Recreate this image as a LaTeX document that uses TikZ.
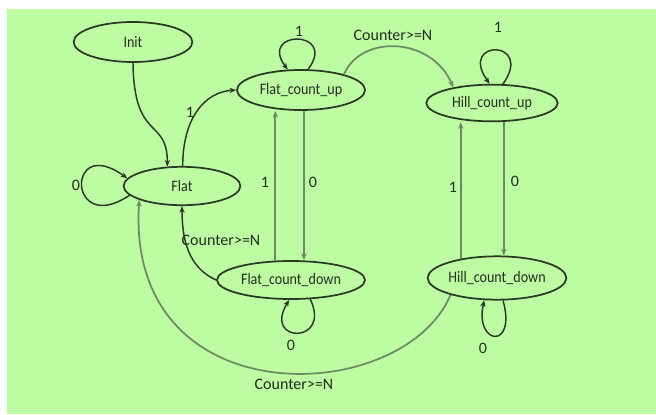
\documentclass[tikz,border=0pt]{standalone}
\usepackage{fontspec}
\setmainfont{Carlito}
\newfontfamily\statefont[FakeStretch=0.88]{Carlito}
\usetikzlibrary{arrows.meta,shapes.geometric}
\definecolor{bggreen}{RGB}{190,252,164}
\definecolor{darkln}{RGB}{40,58,34}
\definecolor{grayln}{RGB}{108,138,98}
\definecolor{txt}{RGB}{34,46,28}
\begin{document}
\begin{tikzpicture}[x=0.75pt,y=-0.75pt,
  state/.style={draw=darkln,line width=1.3pt,ellipse,inner sep=0pt,text=txt,
    font=\statefont\fontsize{12}{14}\selectfont},
  lbl/.style={text=txt,font=\fontsize{12}{14}\selectfont,inner sep=0pt},
  darkarrow/.style={draw=darkln,line width=1.1pt,-{Stealth[length=5pt,width=4pt]}},
  grayarrow/.style={draw=grayln,line width=1.3pt,-{Stealth[length=5pt,width=4pt]}}]
\useasboundingbox (0,0) rectangle (656,414);
\fill[white] (0,0) rectangle (656,414);
\fill[bggreen] (7,9) rectangle (656,414);

\node[state,minimum width=89pt,minimum height=30pt] (Init) at (133,42) {Init};
\node[state,minimum width=87.5pt,minimum height=28.8pt] (Flat) at (182,186) {Flat};
\node[state,minimum width=96pt,minimum height=30pt] (FCU) at (301,90) {Flat\_count\_up};
\node[state,minimum width=98.5pt,minimum height=27.5pt] (HCU) at (492,103) {Hill\_count\_up};
\node[state,minimum width=111pt,minimum height=28.5pt] (FCD) at (291,280) {Flat\_count\_down};
\node[state,minimum width=104pt,minimum height=32.5pt] (HCD) at (497,278) {Hill\_count\_down};

% Init -> Flat
\draw[darkarrow] (Init.south) .. controls +(1,80) and +(0,-50) .. (Flat.127);
% Flat -> FCU
\draw[darkarrow] (Flat.88) .. controls +(0,-47) and +(-32,2) .. (FCU.west);
\node[lbl] (l1) at (190,112) {1};
% Flat self loop
\draw[darkarrow] (Flat.190) .. controls +(-62,42) and +(-62,-45) .. (Flat.172);
\node[lbl] (l2) at (76,185) {0};
% FCU self loop
\draw[darkarrow] (FCU.71) .. controls +(30,-40) and +(-30,-40) .. (FCU.123);
\node[lbl] (l3) at (299,31) {1};
% FCU -> HCU
\draw[grayarrow] (FCU.20) .. controls +(17,-40) and +(-22,-51) .. (HCU.158);
\node[lbl] (l4) at (393,35) {Counter>=N};
% FCD -> FCU
\draw[grayarrow] (FCD.129) -- (FCD.129 |- FCU.south);
\node[lbl] (l5) at (265,182) {1};
% FCU -> FCD
\draw[grayarrow] (FCU.-82) -- (FCU.-82 |- FCD.north);
\node[lbl] (l6) at (313,182) {0};
% HCU self loop
\draw[darkarrow] (HCU.60) .. controls +(32,-45) and +(-32,-45) .. (HCU.97);
\node[lbl] (l7) at (498,27) {1};
% HCD -> HCU
\draw[grayarrow] (HCD.152) -- (HCD.152 |- HCU.south);
\node[lbl] (l8) at (453,187) {1};
% HCU -> HCD
\draw[grayarrow] (HCU.-58) -- (HCU.-58 |- HCD.north);
\node[lbl] (l9) at (515,181) {0};
% FCD -> Flat
\draw[darkarrow] (FCD.west) .. controls +(-27,-12) and +(0,35) .. (Flat.south);
\node[lbl] (l10) at (221,240) {Counter>=N};
% FCD self loop
\draw[darkarrow] (FCD.-45) .. controls +(22,45) and +(-27,44) .. (FCD.-95);
\node[lbl] (l11) at (291,345) {0};
% HCD self loop
\draw[darkarrow] (HCD.-75) .. controls +(14,50) and +(-10,45) .. (HCD.-120);
\node[lbl] (l12) at (483,348) {0};
% HCD -> Flat
\draw[grayarrow] (HCD.200) .. controls +(-48,113) and +(-14,218) .. (Flat.198);
\node[lbl] (l13) at (294,384) {Counter>=N};
\end{tikzpicture}
\end{document}
